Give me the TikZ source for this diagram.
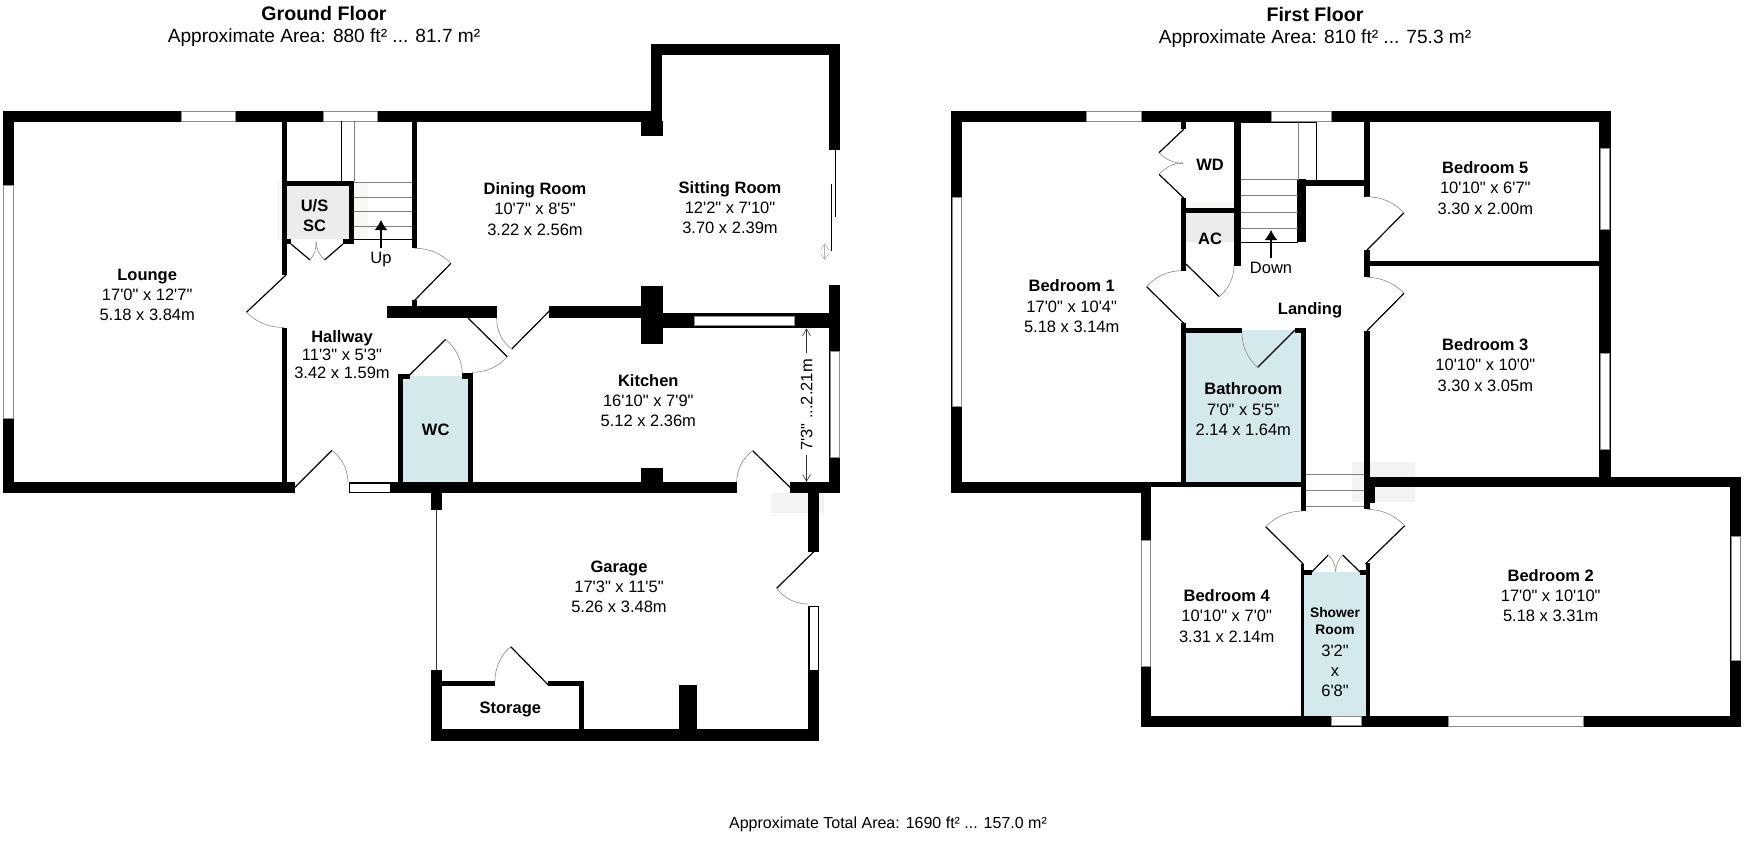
\documentclass[tikz,border=0pt]{standalone}
\usepackage{fontspec}
\setmainfont{Liberation Sans}[Ligatures=TeXOff]
\usetikzlibrary{calc,arrows.meta}
\definecolor{wetroom}{RGB}{212,233,236}
\definecolor{patchA}{RGB}{247,247,244}
\definecolor{patchB}{RGB}{236,236,234}
\definecolor{patchC}{RGB}{243,243,241}
\newcommand{\pwall}[4]{\fill[black] (#1,#2) rectangle (#3,#4);}
\newcommand{\pwin}[4]{\fill[black!45] (#1-1,#2-1) rectangle (#3+1,#4+1);\fill[white] (#1,#2) rectangle (#3,#4);}
\newcommand{\pwinb}[4]{\fill[black] (#1-1.2,#2-1.2) rectangle (#3+1.2,#4+1.2);\fill[white] (#1,#2) rectangle (#3,#4);}
\newcommand{\pdoor}[3]{%
  \coordinate (h) at (#1); \coordinate (t) at (#2); \coordinate (j) at (#3);
  \draw[leafline] (h) -- (t);
  \draw[swingline] (t) .. controls ($0.7233*(t)+0.39*(j)-0.1133*(h)$) and ($0.7233*(j)+0.39*(t)-0.1133*(h)$) .. (j);}
\tikzset{
  leafline/.style={black,line width=.6pt},
  swingline/.style={black!45,line width=.3pt},
  blackline/.style={black,line width=.45pt},
  greyline/.style={black!50,line width=.45pt},
  roomlabel/.style={inner sep=0pt,align=center,font=\fontsize{8.25}{10.15}\selectfont},
  boldlabel/.style={inner sep=0pt,align=center,font=\fontsize{8.25}{10.15}\selectfont\bfseries},
  titlelabel/.style={inner sep=0pt,font=\fontsize{9.55}{12}\selectfont},
  headlabel/.style={inner sep=0pt,font=\fontsize{9.8}{12}\selectfont\bfseries},
  stairarrow/.style={black,line width=.7pt,-{Latex[length=5pt,width=6.5pt]}},
  dimarrow/.style={black!80,line width=.3pt,-{Straight Barb[length=3.5pt,width=4pt]}}
}
\begin{document}
\begin{tikzpicture}[x=.5pt,y=-.5pt]
\path[use as bounding box,fill=white] (0,0) rectangle (1744,840);
% faint patches
\fill[patchA] (277,182) rectangle (368,240);
\fill[patchB] (286.7,185.7) rectangle (348.5,239.3);
\fill[patchB] (1186.3,213.3) rectangle (1234,242);
\fill[patchA] (1190,202) rectangle (1234,208);
\fill[patchC] (771,493) rectangle (824,512.7);
\fill[patchC] (1351.7,461.7) rectangle (1415,502.3);
% wet rooms
\fill[wetroom] (403.3,376) rectangle (467.6,482);
\fill[wetroom] (1186.3,330) rectangle (1300.7,482);
\fill[wetroom] (1304.3,571.7) rectangle (1366,716);
% ---------- Ground floor walls
\pwall{3}{111}{662}{121.7}
\pwall{3}{111}{14}{493}
\pwall{3}{482.3}{295}{493}
\pwall{281.5}{121}{286.7}{275}
\pwall{281.5}{328.3}{286.7}{482.3}
\pwall{412}{121}{417}{248.3}
\pwall{651}{44}{662}{121}
\pwall{651}{44}{840}{55}
\pwall{829}{44}{840}{150}
\pwall{641}{121}{662.7}{135.7}
% understairs cupboard
\pwall{286.7}{181}{354.4}{185.7}
\pwall{348.5}{181}{354.4}{244}
\pwall{286.7}{239.3}{291}{244.3}
\pwall{343}{239.3}{354.4}{244.3}
% hall / dining partition
\pwall{412}{300}{417}{306}
\pwall{387.3}{305.7}{496.7}{318}
\pwall{549.3}{305.7}{641}{318}
\pwall{641}{286}{662.7}{344.3}
\pwall{662.7}{312.7}{829}{328.3}
\pwall{829}{285.3}{840}{493}
% WC
\pwall{398.4}{374}{403.3}{482}
\pwall{398.4}{374}{409.5}{379}
\pwall{467.6}{373}{472.8}{482}
\pwall{462.4}{373}{472.8}{379}
% bottom wall
\pwall{389.6}{482.3}{736.7}{493}
\pwall{790}{482.3}{840}{493}
\pwall{641}{468.3}{662.7}{482.3}
% garage
\pwall{431}{493}{442.3}{509.7}
\pwall{431}{670}{442.3}{740.7}
\pwall{431}{729.3}{819}{740.7}
\pwall{808.3}{493}{819}{551.7}
\pwall{808.3}{670}{819}{740.7}
\pwall{442}{681.3}{495}{686.3}
\pwall{548.3}{681.3}{584}{686.3}
\pwall{579}{681.3}{584}{729.3}
\pwall{678.7}{684.7}{696.7}{729.3}
\draw[black!80,line width=.5pt] (436,509.7) -- (436,670);
% windows
\pwin{3.8}{185.7}{13}{418.3}
\pwin{182}{112}{235}{121}
\pwin{324}{112}{377}{121}
\pwinb{349.7}{483.5}{389.6}{491.8}
\pwin{695.3}{316.7}{794.3}{325}
\pwin{830.7}{352.3}{838.7}{456.7}
\pwinb{809.5}{606.9}{817.8}{670}
% sliding doors
\draw[blackline] (835,150) -- (835,217.3);
\draw[blackline] (831,184) -- (831,250.7);
\draw[black!30,line width=.3pt,{Straight Barb[length=3pt,width=4pt]}-{Straight Barb[length=3pt,width=4pt]}] (824.7,243.3) -- (824.7,260);
% stairs
\draw[blackline] (341.5,121) -- (341.5,181);
\draw[greyline] (354.4,121) -- (354.4,181);
\foreach \yy in {182.3,197,211.7,226.3} {\draw[greyline] (354.4,\yy) -- (412,\yy);}
\draw[blackline] (354.4,239.3) -- (412,239.3);
\coordinate (upfoot) at (381,248);
\coordinate (uptip) at (381,220);
\draw[stairarrow] (upfoot) -- (uptip);
% doors
\pdoor{286,275}{246.4,312.3}{284,327.5}
\pdoor{291,244}{310,260}{316,241.7}
\pdoor{343,244}{324.5,260}{316,241.7}
\pdoor{414,301}{451,263.3}{414.5,248.3}
\pdoor{549.3,311}{511.7,349}{496.7,318}
\pdoor{468.3,318.3}{507.3,356.7}{471.7,372.3}
\pdoor{409.5,375}{445.8,339.3}{462.4,374}
\pdoor{295,487.3}{331.9,450.3}{348,482.3}
\pdoor{790,487.3}{752.7,450.7}{736.7,482}
\pdoor{813.7,551.7}{776.7,588.3}{808,604}
\pdoor{548.3,685}{510.7,646.7}{495,681}
% dimension
\coordinate (dimtop) at (806.5,353);
\coordinate (dimtoptip) at (806.5,328.3);
\coordinate (dimbot) at (806.5,455);
\coordinate (dimbottip) at (806.5,482);
\draw[dimarrow] (dimtop) -- (dimtoptip);
\draw[dimarrow] (dimbot) -- (dimbottip);
\node[roomlabel,rotate=90] (kitchdim) at (806.7,405) {7'3" ...2.21m};
% labels
\node[headlabel] (gftitle) at (324,13.2) {Ground Floor};
\node[titlelabel] (gfarea) at (324,38) {Approximate Area: 880 ft² ... 81.7 m²};
\node[roomlabel] (lounge) at (147.2,295) {\textbf{Lounge}\\17'0" x 12'7"\\5.18 x 3.84m};
\node[roomlabel] (hallway) at (342,354.5) {\textbf{Hallway}\\[-1pt]11'3" x 5'3"\\[-1pt]3.42 x 1.59m};
\node[boldlabel] (us) at (314.5,215.7) {U/S\\SC};
\node[roomlabel] (up) at (381,260) {Up};
\node[roomlabel] (dining) at (535,209) {\textbf{Dining Room}\\10'7" x 8'5"\\3.22 x 2.56m};
\node[roomlabel] (sitting) at (730,207.5) {\textbf{Sitting Room}\\12'2" x 7'10"\\3.70 x 2.39m};
\node[roomlabel] (kitchen) at (648.3,400.7) {\textbf{Kitchen}\\16'10" x 7'9"\\5.12 x 2.36m};
\node[boldlabel] (wc) at (435.7,430) {WC};
\node[roomlabel] (garage) at (619,587) {\textbf{Garage}\\17'3" x 11'5"\\5.26 x 3.48m};
\node[boldlabel] (storage) at (510.3,709) {Storage};
% ---------- First floor walls
\pwall{951}{111}{1610.7}{121.7}
\pwall{951}{111}{962}{493}
\pwall{951}{482}{1151.3}{493}
\pwall{1151.3}{482}{1305.7}{487.3}
\pwall{1599.3}{111}{1610.7}{487}
\pwall{1369}{476.7}{1741.3}{487.3}
\pwall{1730}{476.7}{1741.3}{726.7}
\pwall{1140.7}{482}{1151.3}{726.7}
\pwall{1140.7}{716}{1741.3}{726.7}
% bedroom 1 east wall
\pwall{1181}{121}{1186.3}{129.3}
\pwall{1181}{198}{1186.3}{270.7}
\pwall{1181}{323.3}{1186.3}{482}
\pwall{1234}{121}{1240.7}{266}
\pwall{1186}{208}{1234}{213.3}
% stair / landing walls
\pwall{1297.3}{179.3}{1305.7}{241.7}
\pwall{1297.3}{180}{1364.3}{186}
\pwall{1364.3}{121}{1369.7}{196.7}
\pwall{1364.3}{250}{1369.7}{277.3}
\pwall{1364.3}{330.7}{1369.7}{509.3}
\pwall{1369}{261}{1599.3}{266.3}
% bathroom
\pwall{1181}{328}{1242}{333.3}
\pwall{1295}{328}{1305.7}{333.3}
\pwall{1300.7}{328}{1305.7}{511}
\pwall{1369}{487}{1375}{502.7}
% shower room
\pwall{1300.7}{564}{1304.3}{716}
\pwall{1366}{563.3}{1369.7}{716}
\pwall{1300.7}{570}{1311.7}{575}
\pwall{1360}{570}{1369.7}{575}
% windows
\pwin{1087.3}{112}{1140.7}{121}
\pwin{1272.3}{112}{1331}{121}
\pwin{952.7}{198}{961}{405.7}
\pwin{1600.7}{149.3}{1609.3}{229}
\pwin{1600.7}{354}{1609.3}{449}
\pwin{1142}{540.7}{1150.3}{666}
\pwin{1332.3}{717}{1360.7}{725}
\pwin{1449.3}{717.3}{1582.7}{725.7}
\pwin{1731.7}{536.7}{1740}{660}
% stairs
\draw[greyline] (1298.3,121.7) -- (1298.3,180);
\draw[blackline] (1316.3,121.7) -- (1316.3,180);
\draw[blackline] (1240.7,122.2) -- (1316.3,122.2);
\foreach \yy in {179.7,195.7,212,228} {\draw[greyline] (1240.7,\yy) -- (1298,\yy);}
\draw[blackline] (1240.7,242.3) -- (1298,242.3);
\foreach \yy in {474.7,490.7,506.7} {\draw[greyline] (1306,\yy) -- (1364.3,\yy);}
\coordinate (dnfoot) at (1271,257.7);
\coordinate (dntip) at (1271,230);
\draw[stairarrow] (dnfoot) -- (dntip);
% doors
\pdoor{1183.7,129.3}{1159,152.7}{1183,163.5}
\pdoor{1183.7,198}{1159,174.3}{1183,162.7}
\pdoor{1186,264}{1219.3,296.7}{1234,266}
\pdoor{1183.7,323.3}{1146.7,286.7}{1181,270.7}
\pdoor{1367,250}{1404,212.7}{1367,196.7}
\pdoor{1367,330.7}{1404,293.3}{1367,277.3}
\pdoor{1295,330}{1257.7,367.3}{1242,333.3}
\pdoor{1303.3,564}{1265.7,526.7}{1303,511}
\pdoor{1365.3,564}{1404.7,525.7}{1367,509.3}
\pdoor{1311.7,572}{1328.3,555}{1335.7,571.7}
\pdoor{1360,572}{1342.7,555}{1335.7,571.7}
% labels
\node[headlabel] (fftitle) at (1315,14) {First Floor};
\node[titlelabel] (ffarea) at (1315,38.7) {Approximate Area: 810 ft² ... 75.3 m²};
\node[roomlabel] (bed1) at (1071.7,306.3) {\textbf{Bedroom 1}\\17'0" x 10'4"\\5.18 x 3.14m};
\node[boldlabel] (wd) at (1210,164.7) {WD};
\node[boldlabel] (ac) at (1210,238.7) {AC};
\node[roomlabel] (down) at (1271,267.7) {Down};
\node[boldlabel] (landing) at (1310,310) {Landing};
\node[roomlabel] (bath) at (1243.3,409.3) {\textbf{Bathroom}\\7'0" x 5'5"\\2.14 x 1.64m};
\node[roomlabel] (bed5) at (1485.3,188) {\textbf{Bedroom 5}\\10'10" x 6'7"\\3.30 x 2.00m};
\node[roomlabel] (bed3) at (1485.3,365) {\textbf{Bedroom 3}\\10'10" x 10'0"\\3.30 x 3.05m};
\node[roomlabel] (bed4) at (1226.7,616) {\textbf{Bedroom 4}\\10'10" x 7'0"\\3.31 x 2.14m};
\node[roomlabel] (bed2) at (1550.7,595.5) {\textbf{Bedroom 2}\\17'0" x 10'10"\\5.18 x 3.31m};
\node[inner sep=0pt,align=center,font=\fontsize{6.9}{8.2}\selectfont\bfseries] (shower) at (1335,621) {Shower\\Room};
\node[roomlabel] (showdim) at (1335,671) {3'2"\\x\\6'8"};
\node[inner sep=0pt,font=\fontsize{8}{10}\selectfont] (total) at (888,824.5) {Approximate Total Area: 1690 ft² ... 157.0 m²};
\end{tikzpicture}
\end{document}
